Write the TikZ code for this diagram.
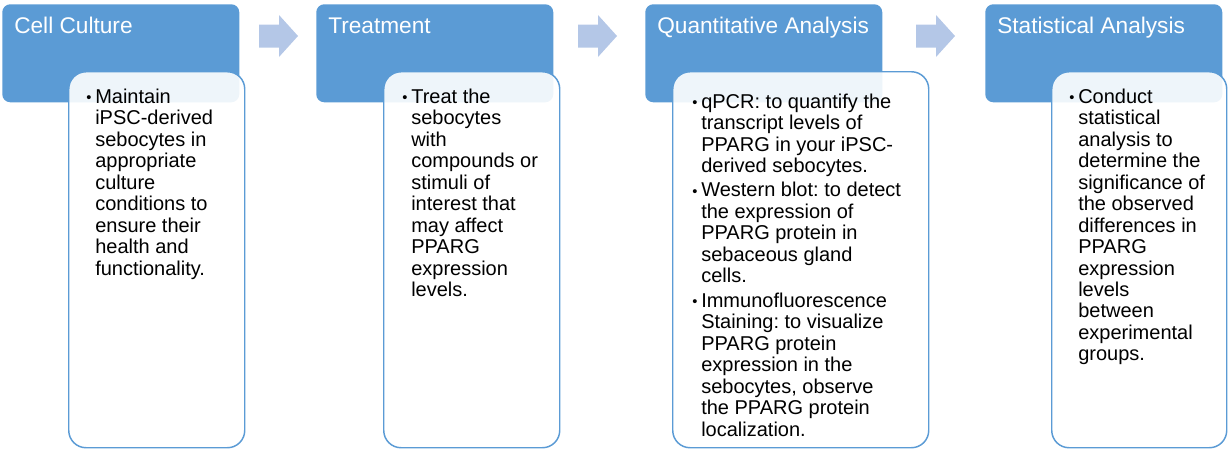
\documentclass[tikz,border=0pt]{standalone}
\usepackage{fontspec}
\setmainfont{Liberation Sans}
\usepackage{tikz}
\usetikzlibrary{positioning}
\definecolor{stageblue}{RGB}{91,155,213}
\definecolor{arrowblue}{RGB}{180,199,231}
\newlength{\stagepx}
\setlength{\stagepx}{0.75pt}
\tikzstyle{headbox}=[rectangle, fill=stageblue, rounded corners=6pt, minimum width=237\stagepx, minimum height=98\stagepx, anchor=north west, inner sep=0pt]
\tikzstyle{headtext}=[text=white, font=\fontsize{17}{20}\selectfont, anchor=base west, inner sep=0pt]
\tikzstyle{bodybox}=[rectangle, draw=stageblue, line width=1.1pt, fill=white, fill opacity=0.9, rounded corners=13pt, minimum height=376\stagepx, anchor=north west, inner sep=0pt]
\tikzstyle{bodytext}=[font=\fontsize{15}{16.1}\selectfont, anchor=north west, inner sep=0pt]
\newcommand{\stagehead}[3]{\node [headbox] (#1) at (#2) {};
  \node [headtext] (#1-title) at ([shift={(12,29.5)}]#1.north west) {#3};}
\newcommand{\stagetext}[1]{\parbox[t]{230\stagepx}{\raggedright\let\\\newline\frenchspacing #1}}
\newcommand{\stagebullet}{\par\hangindent=9\stagepx\hangafter=1\noindent\makebox[9\stagepx][l]{\raisebox{0.6pt}{\fontsize{11}{11}\selectfont\textbullet}}\strut}
\newcommand{\stagearrow}[1]{\fill [arrowblue] (#1) ++(0,-11.5) -- ++(20,0) -- ++(0,-9.5) -- ++(19,21) -- ++(-19,21) -- ++(0,-9.5) -- ++(-20,0) -- cycle;}

\begin{document}
\begin{tikzpicture}[x=\stagepx, y=-\stagepx]
\useasboundingbox (0,0) rectangle (1228,454);
% headers
\stagehead{hdA}{2,4}{Cell Culture}
\stagehead{hdB}{316,4}{Treatment}
\stagehead{hdC}{645,4}{Quantitative Analysis}
\stagehead{hdD}{985,4}{Statistical Analysis}
% arrows between the headers
\coordinate (arAB) at (259,36);
\coordinate (arBC) at (578,36);
\coordinate (arCD) at (916,36);
\stagearrow{arAB}
\stagearrow{arBC}
\stagearrow{arCD}
% white boxes
\node [bodybox, minimum width=176\stagepx] (bdA) at (68,71) {};
\node [bodybox, minimum width=176\stagepx] (bdB) at (383,71) {};
\node [bodybox, minimum width=256\stagepx] (bdC) at (672,71) {};
\node [bodybox, minimum width=175\stagepx] (bdD) at (1051,71) {};
% texts
\node [bodytext] (txA) at ([shift={(18,17)}]bdA.north west) {\stagetext{\stagebullet Maintain\\ iPSC-derived\\ sebocytes in\\ appropriate\\ culture\\ conditions to\\ ensure their\\ health and\\ functionality.}};
\node [bodytext] (txB) at ([shift={(19,17)}]bdB.north west) {\stagetext{\stagebullet Treat the\\ sebocytes\\ with\\ compounds or\\ stimuli of\\ interest that\\ may affect\\ PPARG\\ expression\\ levels.}};
\node [bodytext] (txC) at ([shift={(20,22)}]bdC.north west) {\stagetext{\stagebullet qPCR: to quantify the\\ transcript levels of\\ PPARG in your iPSC-\\ derived sebocytes.\par\vspace{2pt}%
\stagebullet Western blot: to detect\\ the expression of\\ PPARG protein in\\ sebaceous gland\\ cells.\par\vspace{2.5pt}%
\stagebullet Immunofluorescence\\ Staining: to visualize\\ PPARG protein\\ expression in the\\ sebocytes, observe\\ the PPARG protein\\ localization.}};
\node [bodytext] (txD) at ([shift={(18,17)}]bdD.north west) {\stagetext{\stagebullet Conduct\\ statistical\\ analysis to\\ determine the\\ significance of\\ the observed\\ differences in\\ PPARG\\ expression\\ levels\\ between\\ experimental\\ groups.}};
\end{tikzpicture}
\end{document}
